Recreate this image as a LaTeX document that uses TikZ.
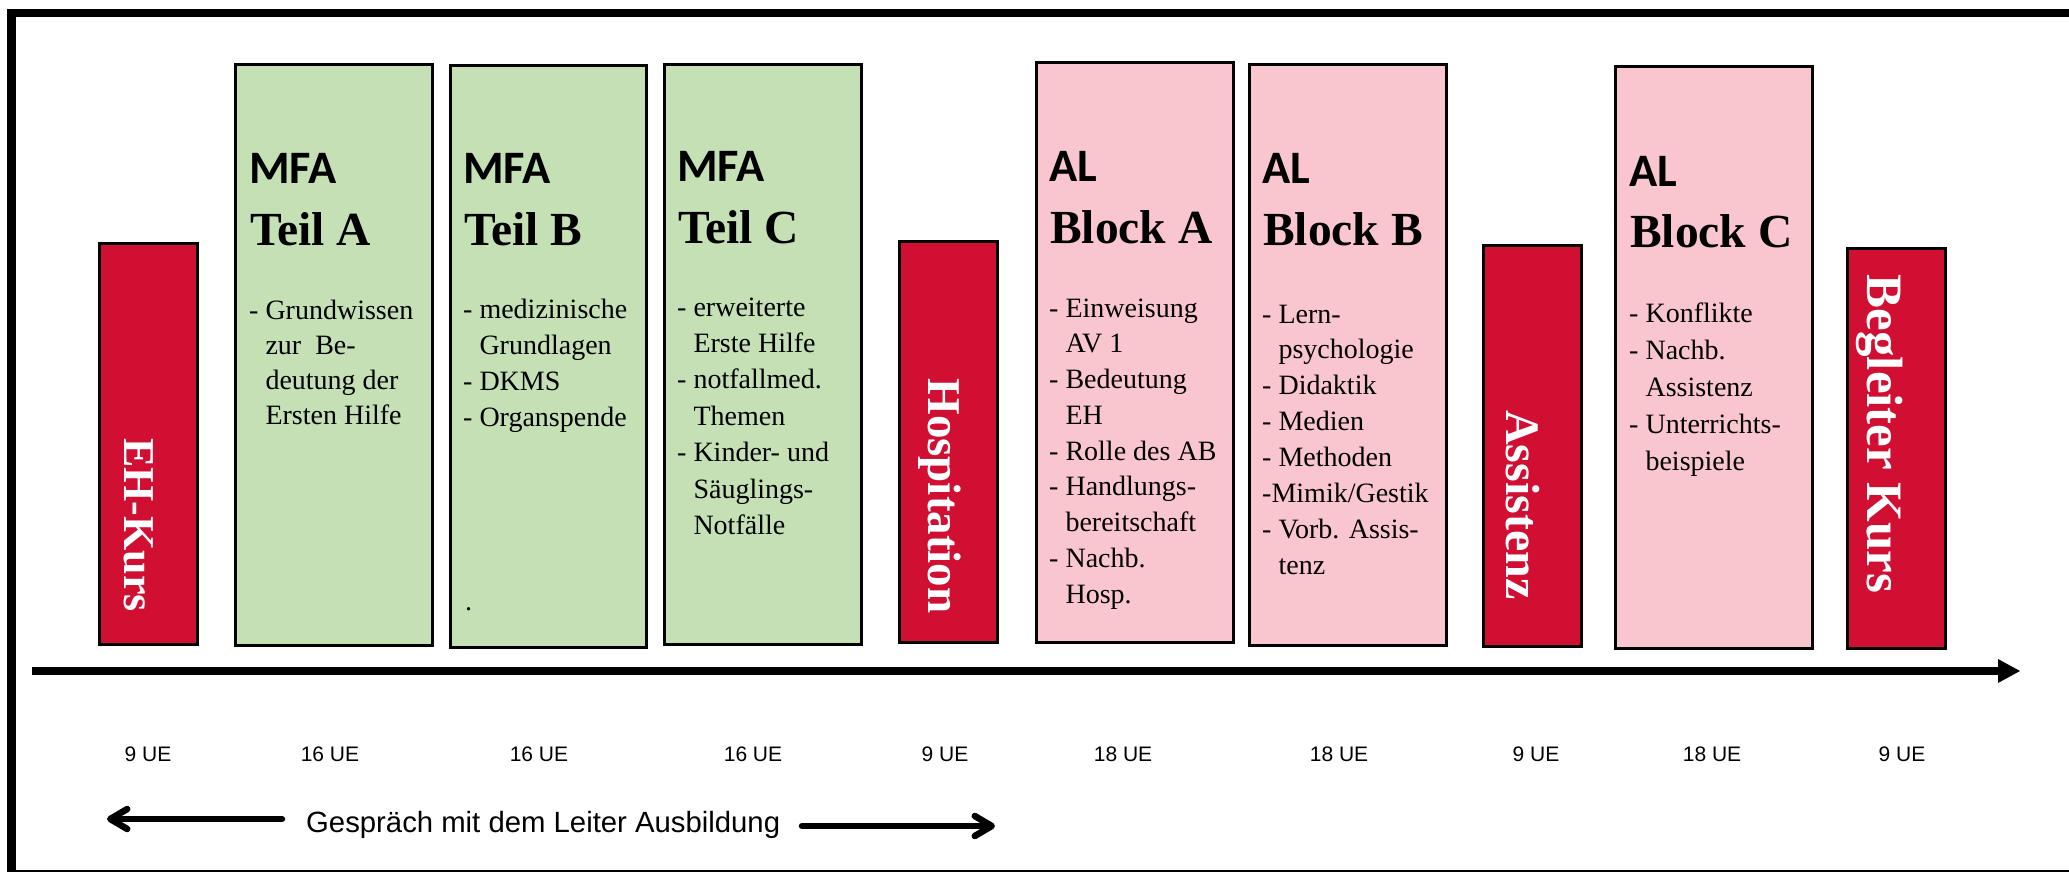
\documentclass[tikz,border=0pt]{standalone}
\usepackage{fontspec}
\setmainfont{Liberation Serif}
\newfontfamily\carl{Carlito}
\newfontfamily\arialf{Liberation Sans}
\usetikzlibrary{arrows.meta}
\definecolor{redfill}{HTML}{D10F32}
\definecolor{greenfill}{HTML}{C5E0B4}
\definecolor{pinkfill}{HTML}{F9C6CF}
\newcommand{\hin}{\hphantom{- }}
\newcommand{\bodyfont}[1]{\fontsize{28}{#1}\selectfont}
\begin{document}
\begin{tikzpicture}[x=1pt,y=-1pt,
  boxbase/.style={draw=black, line width=3pt, inner sep=0pt, anchor=north west},
  gbox/.style={boxbase, fill=greenfill},
  pbox/.style={boxbase, fill=pinkfill},
  rbox/.style={boxbase, fill=redfill},
  headtxt/.style={anchor=base west, inner sep=0pt, font=\carl\bfseries\fontsize{46.5}{46.5}\selectfont},
  titletxt/.style={anchor=base west, inner sep=0pt, font=\bfseries\fontsize{47.5}{47.5}\selectfont},
  bodytxt/.style={anchor=base west, inner sep=0pt},
  vlabel/.style={anchor=base, inner sep=0pt, rotate=-90, text=white},
  uetxt/.style={anchor=base, inner sep=0pt, font=\arialf\fontsize{21}{21}\selectfont},
]
\useasboundingbox (0,0) rectangle (2069,872);
\fill[white] (0,0) rectangle (2069,872);
% frame
\draw[line width=8.5pt] (2069,13) -- (11.5,13) -- (11.5,880);
\draw[line width=2pt] (7,871) -- (2069,871);

% boxes
\node[rbox, minimum width=98pt, minimum height=401pt] (eh) at (97.5,241.5) {};
\node[gbox, minimum width=197pt, minimum height=580pt] (ta) at (233.5,63.5) {};
\node[gbox, minimum width=196pt, minimum height=581pt] (tb) at (448.5,64.5) {};
\node[gbox, minimum width=197pt, minimum height=579pt] (tc) at (662.5,63.5) {};
\node[rbox, minimum width=98pt, minimum height=401pt] (ho) at (897.5,239.5) {};
\node[pbox, minimum width=197pt, minimum height=579pt] (ba) at (1034.5,61.5) {};
\node[pbox, minimum width=197pt, minimum height=580pt] (bb) at (1247.5,63.5) {};
\node[rbox, minimum width=98pt, minimum height=401pt] (as) at (1481.5,243.5) {};
\node[pbox, minimum width=197pt, minimum height=581pt] (bc) at (1613.5,65.5) {};
\node[rbox, minimum width=98pt, minimum height=400pt] (bg) at (1845.5,246.5) {};

% vertical labels
\node[vlabel, font=\bfseries\fontsize{44}{44}\selectfont] (ehl) at (124,525) {EH-Kurs};
\node[vlabel, font=\bfseries\fontsize{47}{47}\selectfont] (hol) at (928,496) {Hospitation};
\node[vlabel, font=\bfseries\fontsize{48}{48}\selectfont] (asl) at (1506,505) {Assistenz};
\node[vlabel, font=\bfseries\fontsize{51}{51}\selectfont] (bgl) at (1867,434) {Begleiter Kurs};

% headings
\node[headtxt] (tah) at (249,183) {MFA};
\node[titletxt] (tat) at (250,245) {Teil A};
\node[headtxt] (tbh) at (463,183) {MFA};
\node[titletxt] (tbt) at (464,245) {Teil B};
\node[headtxt] (tch) at (677,182) {MFA};
\node[titletxt] (tct) at (678,243) {Teil C};
\node[headtxt] (bah) at (1049,182) {AL};
\node[titletxt] (bat) at (1050,243) {Block A};
\node[headtxt] (bbh) at (1262,183) {AL};
\node[titletxt] (bbt) at (1263,245) {Block B};
\node[headtxt] (bch) at (1629,186) {AL};
\node[titletxt] (bct) at (1630,247) {Block C};

% bodies
\node[bodytxt] (tab) at (249,319) {\bodyfont{35}\begin{tabular}[t]{@{}l@{}}
- Grundwissen\\
\hin zur\ \ Be-\\
\hin deutung der\\
\hin Ersten Hilfe\end{tabular}};
\node[bodytxt] (tbb) at (463,318) {\bodyfont{36}\begin{tabular}[t]{@{}l@{}}
- medizinische\\
\hin Grundlagen\\
- DKMS\\
- Organspende\end{tabular}};
\node[bodytxt, font=\bodyfont{30}] (tbd) at (465,610) {.};
\node[bodytxt] (tcb) at (677,316) {\bodyfont{36.4}\begin{tabular}[t]{@{}l@{}}
- erweiterte\\
\hin Erste Hilfe\\
- notfallmed.\\
\hin Themen\\
- Kinder- und\\
\hin Säuglings-\\
\hin Notfälle\end{tabular}};
\node[bodytxt] (bab) at (1049,317) {\bodyfont{35.75}\begin{tabular}[t]{@{}l@{}}
- Einweisung\\
\hin AV 1\\
- Bedeutung\\
\hin EH\\
- Rolle des AB\\
- Handlungs-\\
\hin bereitschaft\\
- Nachb.\\
\hin Hosp.\end{tabular}};
\node[bodytxt] (bbb) at (1262,323) {\bodyfont{35.9}\begin{tabular}[t]{@{}l@{}}
- Lern-\\
\hin psychologie\\
- Didaktik\\
- Medien\\
- Methoden\\
-Mimik/Gestik\\
- Vorb. Assis-\\
\hin tenz\end{tabular}};
\node[bodytxt] (bcb) at (1629,322) {\bodyfont{37.2}\begin{tabular}[t]{@{}l@{}}
- Konflikte\\
- Nachb.\\
\hin Assistenz\\
- Unterrichts-\\
\hin beispiele\end{tabular}};

% timeline
\coordinate (tl0) at (32,671);
\coordinate (tl1) at (2020,671);
\draw[line width=8pt, -{Triangle[length=22pt,width=24pt,line width=0pt]}] (tl0) -- (tl1);

% UE labels
\node[uetxt] (u1) at (148,761) {9 UE};
\node[uetxt] (u2) at (330,761) {16 UE};
\node[uetxt] (u3) at (539,761) {16 UE};
\node[uetxt] (u4) at (753,761) {16 UE};
\node[uetxt] (u5) at (945,761) {9 UE};
\node[uetxt] (u6) at (1123,761) {18 UE};
\node[uetxt] (u7) at (1339,761) {18 UE};
\node[uetxt] (u8) at (1536,761) {9 UE};
\node[uetxt] (u9) at (1712,761) {18 UE};
\node[uetxt] (u10) at (1902,761) {9 UE};

% Gespraech
\node[anchor=base west, inner sep=0pt, font=\arialf\fontsize{29.3}{29.3}\selectfont] (gs) at (306,832) {Gespräch mit dem Leiter Ausbildung};
\coordinate (la0) at (282,819);
\coordinate (la1) at (107,819);
\coordinate (ra0) at (802,826);
\coordinate (ra1) at (995,826);
\draw[line width=6.5pt, line cap=round, -{Straight Barb[length=17pt,width=20pt,round]}] (la0) -- (la1);
\draw[line width=6.5pt, line cap=round, -{Straight Barb[length=17pt,width=20pt,round]}] (ra0) -- (ra1);
\end{tikzpicture}
\end{document}
